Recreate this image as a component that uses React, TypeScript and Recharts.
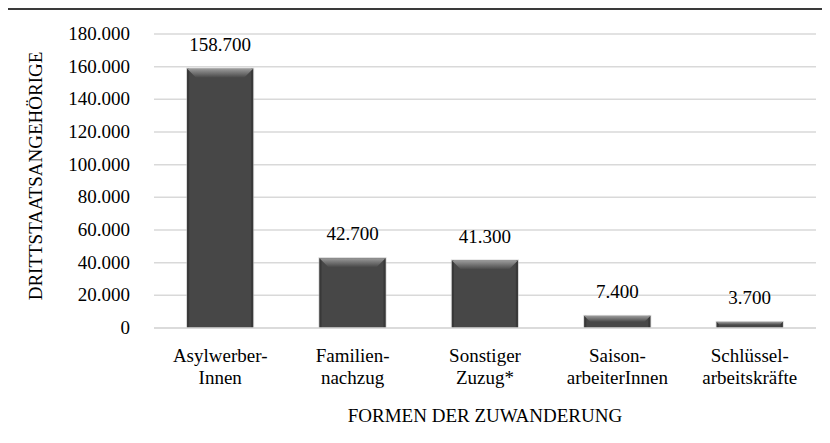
import React from "react";
import { BarChart, Bar, XAxis, YAxis, CartesianGrid, LabelList } from "recharts";

const categories = ["Asylwerber-\nInnen", "Familien-\nnachzug", "Sonstiger\nZuzug*", "Saison-\narbeiterInnen", "Schlüssel-\narbeitskräfte"];
const values = [158700, 42700, 41300, 7400, 3700];
const valueLabels = ["158.700", "42.700", "41.300", "7.400", "3.700"];
const yTicks = [0, 20000, 40000, 60000, 80000, 100000, 120000, 140000, 160000, 180000];

const data = categories.map((c, i) => ({ name: c, value: values[i], label: valueLabels[i] }));

const FONT = "Liberation Serif, DejaVu Serif, serif";
const textStyle = { fontFamily: FONT, fontSize: 19 };

const fmt = (v: number) => (v === 0 ? "0" : v.toLocaleString("de-DE"));

const BarShape = (props: any) => {
  const { x, y, width, height } = props;
  if (!height || height <= 0) return null;
  const band = Math.min(9, height / 2);
  return (
    <g>
      <rect x={x - 1} y={y - 1} width={width + 2} height={height + 1} fill="#b5b5b5" opacity={0.6} />
      <rect x={x} y={y} width={width} height={height} fill="#474747" />
      <rect x={x} y={y} width={2} height={height} fill="#383838" />
      <rect x={x + width - 2} y={y} width={2} height={height} fill="#383838" />
      <polygon
        points={`${x},${y} ${x + width},${y} ${x + width - band},${y + band} ${x + band},${y + band}`}
        fill="url(#topBevel)"
      />
    </g>
  );
};

const XTick = (props: any) => {
  const { x, y, payload } = props;
  const lines = String(payload.value).split("\n");
  return (
    <g>
      {lines.map((l, i) => (
        <text key={i} x={x} y={y + 26 + i * 22} textAnchor="middle" style={textStyle} fill="#000">
          {l}
        </text>
      ))}
    </g>
  );
};

const YTick = (props: any) => {
  const { x, y, payload } = props;
  return (
    <text x={x} y={y} dy={6} textAnchor="end" style={textStyle} fill="#000">
      {fmt(payload.value)}
    </text>
  );
};

const ValueLabel = (props: any) => {
  const { x, y, width, value } = props;
  return (
    <text x={x + width / 2} y={y - 18} textAnchor="middle" style={textStyle} fill="#000">
      {value}
    </text>
  );
};

const XTitle = (props: any) => {
  const vb = props.viewBox || {};
  return (
    <text x={vb.x + vb.width / 2} y={vb.y + 94} textAnchor="middle" style={textStyle} fill="#000">
      FORMEN DER ZUWANDERUNG
    </text>
  );
};

const YTitle = () => (
  <text x={0} y={0} transform="translate(42, 176) rotate(-90)" textAnchor="middle" style={textStyle} fill="#000">
    DRITTSTAATSANGEHÖRIGE
  </text>
);

export default function App() {
  return (
    <div style={{ position: "relative", width: 830, height: 443, margin: -8, background: "#fff", fontFamily: FONT }}>
      <div
        style={{
          position: "absolute",
          left: 6,
          top: 8,
          width: 840,
          height: 450,
          borderTop: "2px solid #3a3a3a",
          borderLeft: "2px solid #3a3a3a",
          boxSizing: "border-box",
        }}
      />
      <div style={{ position: "absolute", left: 0, top: 0 }}>
        <BarChart width={830} height={443} data={data} margin={{ top: 34, right: 14, bottom: 0, left: 0 }} barCategoryGap="25%" style={{ fontFamily: FONT }}>
          <defs>
            <linearGradient id="topBevel" x1="0" y1="0" x2="0" y2="1">
              <stop offset="0%" stopColor="#9a9a9a" />
              <stop offset="100%" stopColor="#474747" />
            </linearGradient>
          </defs>
          <CartesianGrid vertical={false} stroke="#d9d9d9" strokeWidth={1.5} />
          <XAxis
            dataKey="name"
            axisLine={{ stroke: "#d9d9d9", strokeWidth: 1.5 }}
            tickLine={false}
            height={115}
            interval={0}
            tick={<XTick />}
            label={<XTitle />}
          />
          <YAxis
            width={154}
            domain={[0, 180000]}
            ticks={yTicks}
            axisLine={false}
            tickLine={false}
            tickMargin={18}
            tick={<YTick />}
            label={<YTitle />}
          />
          <Bar dataKey="value" isAnimationActive={false} shape={<BarShape />}>
            <LabelList dataKey="label" content={<ValueLabel />} />
          </Bar>
        </BarChart>
      </div>
    </div>
  );
}
